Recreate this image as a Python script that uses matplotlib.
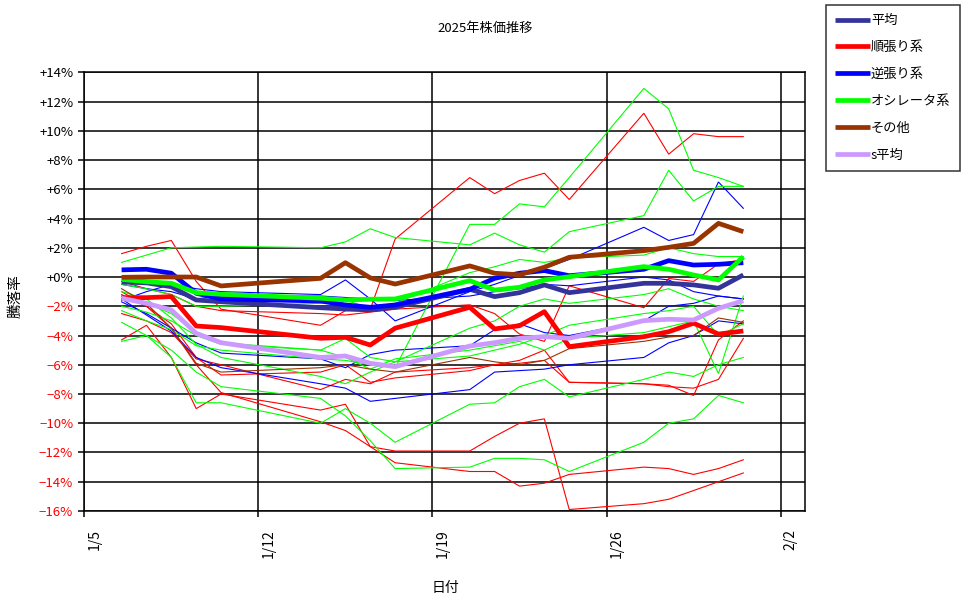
import datetime as dt

import matplotlib
matplotlib.use("Agg")
import matplotlib.pyplot as plt
import matplotlib.dates as mdates
import matplotlib.transforms as mtransforms
from matplotlib.ticker import FuncFormatter, FixedLocator

plt.rcParams["font.family"] = ["Noto Sans CJK JP", "DejaVu Sans"]

# 取引日 (1/13 祝日)
days = [6, 7, 8, 9, 10, 14, 15, 16, 17, 20, 21, 22, 23, 24, 27, 28, 29, 30, 31]

# 太線 (カテゴリ平均)
avg_all = [-0.34, -0.4, -0.66, -1.57, -1.69, -2.1, -2.19, -2.25, -2.07, -0.84,
           -1.34, -1.07, -0.54, -1.07, -0.43, -0.43, -0.54, -0.77, 0.14]
avg_trend = [-1.41, -1.41, -1.34, -3.35, -3.46, -4.19, -4.12, -4.65, -3.5, -2.07,
             -3.55, -3.33, -2.37, -4.76, -4.08, -3.74, -3.16, -3.9, -3.69]
avg_contra = [0.49, 0.53, 0.26, -1.11, -1.5, -1.64, -1.91, -2.07, -1.91, -0.84,
              -0.09, 0.26, 0.44, 0.09, 0.53, 1.12, 0.82, 0.87, 0.98]
avg_osc = [-0.16, -0.32, -0.43, -1.07, -1.18, -1.45, -1.57, -1.52, -1.5, -0.25,
           -0.89, -0.7, -0.2, 0.02, 0.71, 0.53, 0.14, -0.2, 1.39]
avg_other = [-0.02, 0.0, 0.0, 0.0, -0.61, -0.09, 0.98, -0.06, -0.48, 0.76,
             0.26, 0.15, 0.67, 1.35, 1.8, 2.03, 2.3, 3.67, 3.1]
avg_s = [-1.45, -1.8, -2.25, -3.85, -4.49, -5.5, -5.4, -5.9, -6.13, -4.72,
         -4.49, -4.19, -4.08, -4.19, -2.98, -2.89, -2.94, -2.14, -1.62]

# 細線 (個別銘柄)
trend_lines = [
    [1.6, 2.1, 2.5, -0.3, -2.2, -3.3, -2.3, -2.2, 2.6, 6.8, 5.7, 6.6, 7.1, 5.3, 11.2, 8.4, 9.8, 9.6, 9.6],
    [-4.3, -3.3, -5.5, -9.0, -8.0, -9.1, -8.7, -11.6, -12.7, -13.3, -13.3, -14.3, -14.1, -13.5, -13.0, -13.1, -13.5, -13.1, -12.5],
    [-1.0, -2.0, -3.5, -6.0, -7.9, -9.9, -10.5, -11.6, -11.9, -11.9, -10.9, -10.0, -9.7, -15.9, -15.5, -15.2, -14.6, -14.0, -13.4],
    [-1.2, -2.0, -3.2, -5.5, -6.7, -6.5, -6.0, -7.2, -6.9, -6.4, -6.0, -5.9, -5.7, -7.2, -7.3, -7.4, -8.1, -4.3, -3.0],
    [-0.3, -0.8, -1.2, -2.0, -2.3, -2.5, -2.6, -2.4, -2.2, -1.9, -2.5, -3.9, -4.4, -0.6, -2.1, -0.1, -0.3, 0.9, 1.2],
    [-2.5, -3.0, -3.8, -5.6, -6.0, -7.7, -7.0, -7.3, -6.5, -6.2, -6.0, -5.7, -5.0, -7.2, -7.3, -7.5, -7.6, -7.0, -4.2],
]
contra_lines = [
    [-1.6, -1.0, -0.5, -0.8, -1.0, -1.2, -0.2, -1.5, -3.0, -1.0, -0.5, 0.1, 0.6, 1.2, 3.4, 2.5, 2.9, 6.5, 4.7],
    [-1.7, -2.5, -3.5, -4.5, -5.2, -5.6, -6.2, -5.3, -5.0, -4.7, -3.6, -3.2, -3.8, -4.0, -3.0, -2.0, -1.8, -1.3, -1.5],
    [-1.5, -2.6, -3.7, -5.5, -6.2, -7.3, -7.6, -8.5, -8.3, -7.7, -6.5, -6.4, -6.3, -6.0, -5.5, -4.5, -4.0, -3.0, -3.2],
    [-0.5, -0.8, -1.0, -1.5, -1.3, -1.3, -1.4, -1.5, -1.6, -1.3, -1.0, -0.8, -0.5, -0.6, 0.0, -0.2, -1.0, -1.3, -1.5],
]
osc_lines = [
    [-2.3, -3.0, -3.6, -4.7, -5.0, -5.6, -5.7, -6.0, -6.2, 3.6, 3.6, 5.0, 4.8, 6.8, 12.9, 11.5, 7.3, 6.8, 6.2],
    [1.0, 1.5, 2.0, 2.05, 2.1, 2.0, 2.4, 3.3, 2.7, 2.2, 3.0, 2.2, 1.7, 3.1, 4.2, 7.3, 5.2, 6.2, 6.2],
    [-3.1, -4.0, -5.0, -6.5, -7.5, -8.3, -9.5, -11.2, -13.1, -13.0, -12.4, -12.4, -12.5, -13.3, -11.3, -10.0, -9.7, -8.1, -8.6],
    [-4.4, -4.0, -5.5, -8.6, -8.6, -10.0, -9.0, -10.0, -11.3, -8.7, -8.6, -7.5, -7.0, -8.2, -7.0, -6.5, -6.8, -6.0, -5.5],
    [-1.3, -1.8, -2.5, -3.8, -4.5, -5.0, -4.2, -5.5, -5.8, -3.5, -3.0, -2.0, -1.5, -1.8, -1.2, -0.8, -1.5, -2.0, -2.3],
    [-0.5, -0.8, -1.2, -2.0, -2.0, -1.8, -1.6, -2.1, -1.8, 0.3, 0.7, 1.2, 1.0, 1.3, 1.5, 2.0, 1.6, 1.4, 1.4],
    [-1.0, -1.5, -2.8, -4.6, -5.5, -6.8, -7.3, -6.5, -5.8, -5.4, -5.0, -4.6, -4.0, -3.3, -2.5, -2.3, -2.0, -4.0, -3.2],
    [-2.0, -2.4, -3.0, -4.0, -4.6, -5.0, -5.5, -6.3, -5.6, -5.0, -4.7, -4.4, -5.0, -4.2, -3.8, -3.4, -3.0, -6.6, -1.3],
]
other_lines = [
    [-0.8, -1.8, -3.5, -5.9, -6.5, -6.2, -6.0, -6.3, -6.5, -5.5, -5.8, -6.0, -5.7, -4.9, -4.4, -4.1, -4.0, -2.8, -3.1],
]

series_names = ["平均", "順張り系", "逆張り系", "オシレータ系", "その他", "s平均"]
series_colors = ["#333399", "#FF0000", "#0000FF", "#00FF00", "#993300", "#CC99FF"]
series_values = [avg_all, avg_trend, avg_contra, avg_osc, avg_other, avg_s]
thin_groups = [(trend_lines, "#FF0000"), (contra_lines, "#0000FF"),
               (osc_lines, "#00FF00"), (other_lines, "#993300")]

# Excel の日付軸: 各日付は日の中央に置かれる
x = [dt.datetime(2025, 1, d, 12) for d in days]

fig = plt.figure(figsize=(9.7, 6.04), dpi=100)
ax = fig.add_axes([0.0869, 0.154, 0.7435, 0.7263])

for group, color in thin_groups:
    for vals in group:
        ax.plot(x, vals, color=color, lw=0.8, solid_joinstyle="miter")

handles = []
for name, color, vals in zip(series_names, series_colors, series_values):
    h, = ax.plot(x, vals, color=color, lw=3.4, label=name, solid_capstyle="butt")
    handles.append(h)

ax.set_xlim(dt.datetime(2025, 1, 5), dt.datetime(2025, 2, 3))
ax.set_ylim(-16, 14)
ax.yaxis.set_major_locator(FixedLocator(range(-16, 15, 2)))
ax.yaxis.set_major_formatter(FuncFormatter(
    lambda v, p: f"+{v:.0f}%" if v >= 0 else f"\u2212{abs(v):.0f}%"))
ticks = [dt.datetime(2025, 1, 5) + dt.timedelta(days=7 * i) for i in range(5)]
ax.set_xticks(ticks)
ax.xaxis.set_major_formatter(mdates.DateFormatter("%-m/%-d"))

ax.grid(True, color="black", lw=1.1)
ax.set_axisbelow(True)
for s in ax.spines.values():
    s.set_linewidth(1.1)
ax.tick_params(axis="y", direction="out", length=4, width=1.1, labelsize=9.5, pad=4)
ax.tick_params(axis="x", direction="out", length=4, width=1.1, labelsize=10, pad=9)
for lbl in ax.get_yticklabels():
    if lbl.get_text().startswith("\u2212"):
        lbl.set_color("red")
offset = mtransforms.ScaledTranslation(10 / 100, 0, fig.dpi_scale_trans)
for lbl in ax.get_xticklabels():
    lbl.set_rotation(90)
    lbl.set_va("top")
    lbl.set_ha("center")
    lbl.set_transform(lbl.get_transform() + offset)

fig.text(485 / 970, 1 - 28 / 604, "2025年株価推移", ha="center", va="center", fontsize=9.5)
fig.text(445 / 970, 1 - 588 / 604, "日付", ha="center", va="center", fontsize=10)
fig.text(16 / 970, 1 - 296 / 604, "騰落率", ha="center", va="center", rotation=90, fontsize=10.5)

leg = fig.legend(handles=handles, loc="upper left", bbox_to_anchor=(826 / 970, 1 - 5 / 604),
                 frameon=True, fancybox=False, edgecolor="black", fontsize=9.5,
                 handlelength=2.6, handletextpad=0.1, labelspacing=1.05,
                 borderpad=0.7, borderaxespad=0)
leg.get_frame().set_linewidth(1.1)

fig.savefig("out.png", dpi=100)
